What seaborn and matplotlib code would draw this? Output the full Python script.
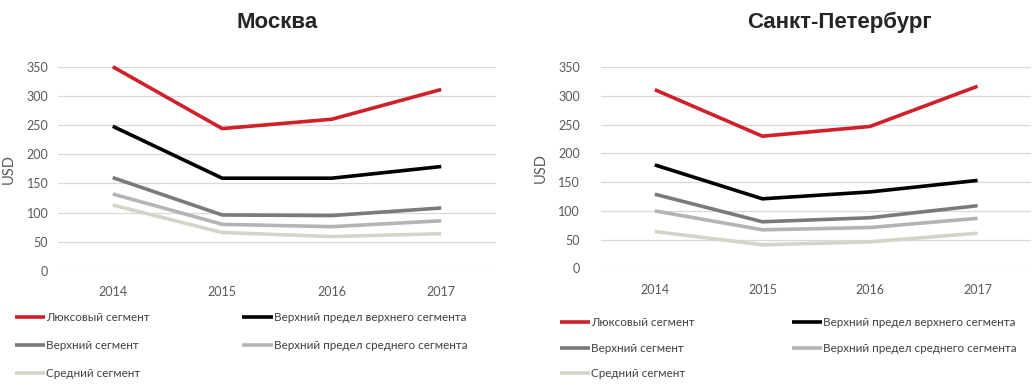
import pandas as pd
import matplotlib.pyplot as plt
import seaborn as sns

# Данные
years = ['2014', '2015', '2016', '2017']
segments = ['Люксовый сегмент', 'Верхний сегмент', 'Средний сегмент',
            'Верхний предел верхнего сегмента', 'Верхний предел среднего сегмента']

moscow_lux = [350, 244, 260, 311]
moscow_upper = [160, 96, 95, 108]
moscow_middle = [113, 66, 59, 64]
moscow_upper_lim_upper = [248, 159, 159, 179]
moscow_upper_lim_middle = [132, 80, 76, 86]

spb_lux = [311, 230, 247, 317]
spb_upper = [129, 81, 88, 109]
spb_middle = [64, 41, 46, 61]
spb_upper_lim_upper = [180, 121, 133, 153]
spb_upper_lim_middle = [100, 67, 71, 87]

colors = ['#d0202a', '#7a7a7a', '#d6d4c8', '#000000', '#b4b4b4']
paleta = dict(zip(segments, colors))


def armar_df(series):
    filas = []
    for seg, vals in zip(segments, series):
        for y, v in zip(years, vals):
            filas.append({'Год': y, 'USD': v, 'Сегмент': seg})
    return pd.DataFrame(filas)


df_msk = armar_df([moscow_lux, moscow_upper, moscow_middle,
                   moscow_upper_lim_upper, moscow_upper_lim_middle])
df_spb = armar_df([spb_lux, spb_upper, spb_middle,
                   spb_upper_lim_upper, spb_upper_lim_middle])

sns.set_theme(style="white")
plt.rcParams['font.family'] = ['Lato', 'DejaVu Sans']

fig = plt.figure(figsize=(10.32, 3.89), dpi=100)
ax1 = fig.add_axes([0.0562, 0.3033, 0.4244, 0.5252])
ax2 = fig.add_axes([0.5824, 0.3103, 0.4170, 0.5167])

# (eje, datos, título, x del título, pad y, legenda x, legenda y, espaciado, interlineado)
config = [
    (ax1, df_msk, 'Москва', 0.5, 7, 0.0145, 0.1980, 7.9, 1.45),
    (ax2, df_spb, 'Санкт-Петербург', 0.555, 15, 0.5426, 0.1850, 8.3, 1.25),
]

# Orden de dibujo: las líneas claras abajo
draw_order = ['Средний сегмент', 'Верхний предел среднего сегмента', 'Верхний сегмент',
              'Верхний предел верхнего сегмента', 'Люксовый сегмент']

for ax, df, titulo, tx, ypad, lx, ly, colsp, lsp in config:
    for seg in draw_order:
        sns.lineplot(data=df[df['Сегмент'] == seg], x='Год', y='USD', color=paleta[seg],
                     linewidth=2.6, ax=ax, label=seg, clip_on=False, solid_capstyle='butt')
    ax.set_ylim(0, 350)
    ax.set_xlim(-0.5, 3.5)
    ax.set_yticks(range(0, 351, 50))
    ax.grid(axis='y', color='#d9d9d9', linewidth=0.9)
    ax.set_axisbelow(True)
    for s in ax.spines.values():
        s.set_visible(False)
    ax.tick_params(axis='x', length=0, pad=11, labelsize=9, labelcolor='#595959')
    ax.tick_params(axis='y', length=0, pad=ypad, labelsize=9, labelcolor='#595959')
    ax.set_xlabel('')
    ax.set_ylabel('USD', fontsize=10.5, color='#595959', labelpad=8)
    ax.set_title(titulo, fontsize=16, fontweight='bold', family='Liberation Sans',
                 x=tx, pad=28)
    ax.get_legend().remove()

    handles, labels = ax.get_legend_handles_labels()
    mapa = dict(zip(labels, handles))
    fig.legend([mapa[s] for s in segments], segments, ncol=2, loc='upper left',
               bbox_to_anchor=(lx, ly), bbox_transform=fig.transFigure,
               frameon=False, fontsize=8.4, handlelength=2.6, handletextpad=0.1,
               labelspacing=lsp, columnspacing=colsp, borderpad=0, borderaxespad=0,
               labelcolor='#404040')

fig.savefig('out.png', dpi=100)
